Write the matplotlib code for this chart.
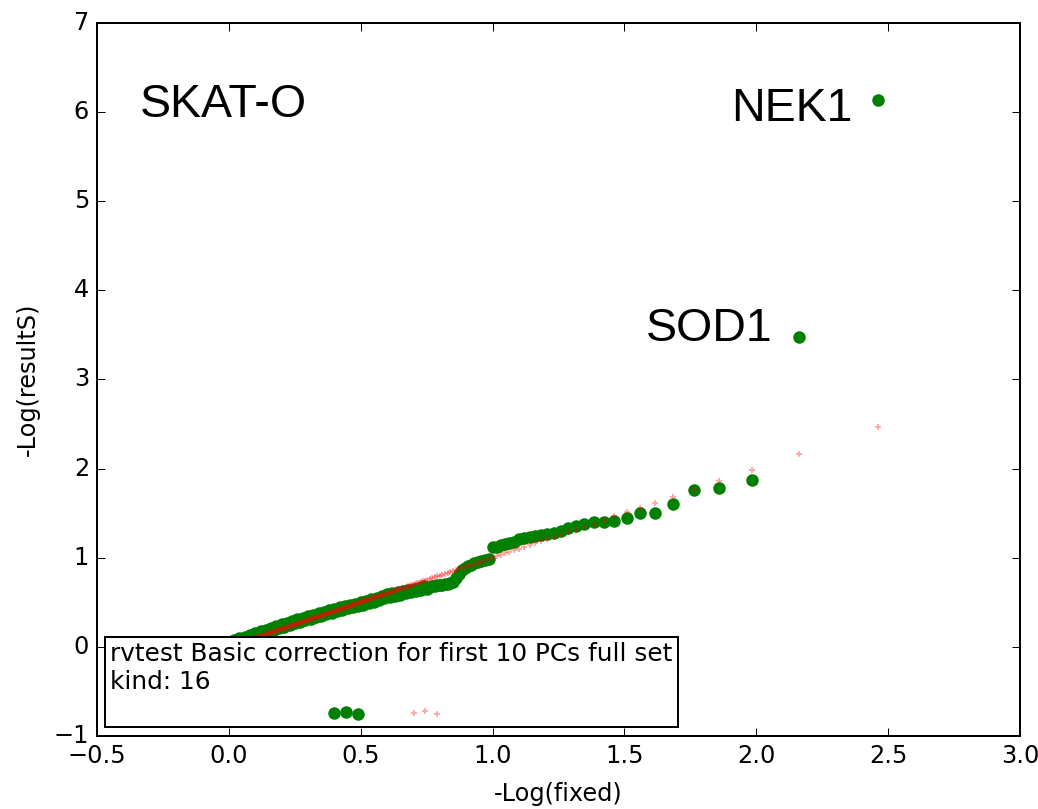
import matplotlib
matplotlib.use('Agg')
import matplotlib.pyplot as plt

plt.style.use('classic')

exp_top = [2.462, 2.161, 1.985, 1.860, 1.763, 1.684, 1.617, 1.559, 1.508, 1.462,
           1.421, 1.383, 1.348, 1.316, 1.286, 1.258, 1.232, 1.207, 1.184, 1.161,
           1.140, 1.120, 1.101, 1.082, 1.064, 1.047, 1.031, 1.015, 1.000, 0.985,
           0.971, 0.957, 0.944, 0.931, 0.918, 0.906, 0.894, 0.883, 0.871, 0.860,
           0.850, 0.839, 0.829, 0.819, 0.809, 0.800, 0.790, 0.781, 0.772, 0.763]
obs_top = [6.13, 3.48, 1.87, 1.78, 1.76, 1.60, 1.50, 1.50, 1.45, 1.41,
           1.40, 1.40, 1.38, 1.36, 1.33, 1.30, 1.28, 1.265, 1.25, 1.245,
           1.235, 1.225, 1.205, 1.18, 1.16, 1.15, 1.14, 1.125, 1.115, 0.99,
           0.975, 0.96, 0.95, 0.935, 0.92, 0.905, 0.885, 0.86, 0.82, 0.77,
           0.73, 0.715, 0.705, 0.70, 0.695, 0.69, 0.69, 0.685, 0.68, 0.675]

# dense lower part of the curve (thick band of overlapping points)
exp_low = [0.00, 0.01, 0.02, 0.03, 0.04, 0.05, 0.06, 0.07, 0.08, 0.09,
           0.10, 0.11, 0.12, 0.13, 0.14, 0.15, 0.16, 0.17, 0.18, 0.19,
           0.20, 0.21, 0.22, 0.23, 0.24, 0.25, 0.26, 0.27, 0.28, 0.29,
           0.30, 0.31, 0.32, 0.33, 0.34, 0.35, 0.36, 0.37, 0.38, 0.39,
           0.40, 0.41, 0.42, 0.43, 0.44, 0.45, 0.46, 0.47, 0.48, 0.49,
           0.50, 0.51, 0.52, 0.53, 0.54, 0.55, 0.56, 0.57, 0.58, 0.59,
           0.60, 0.61, 0.62, 0.63, 0.64, 0.65, 0.66, 0.67, 0.68, 0.69,
           0.70, 0.71, 0.72, 0.73, 0.74, 0.75]
obs_low = [0.058, 0.032, 0.077, 0.051, 0.096, 0.070, 0.115, 0.089, 0.134, 0.108,
           0.153, 0.127, 0.173, 0.147, 0.193, 0.167, 0.213, 0.187, 0.233, 0.207,
           0.253, 0.226, 0.271, 0.244, 0.289, 0.262, 0.307, 0.280, 0.325, 0.298,
           0.343, 0.316, 0.360, 0.333, 0.377, 0.350, 0.394, 0.367, 0.411, 0.384,
           0.428, 0.400, 0.444, 0.416, 0.460, 0.432, 0.474, 0.444, 0.486, 0.456,
           0.498, 0.471, 0.516, 0.489, 0.534, 0.507, 0.552, 0.525, 0.570, 0.543,
           0.588, 0.559, 0.602, 0.573, 0.616, 0.587, 0.629, 0.599, 0.641, 0.611,
           0.653, 0.623, 0.665, 0.635, 0.677, 0.647]

# odd points sitting below zero
odd_green_x = [0.40, 0.445, 0.49]
odd_green_y = [-0.746, -0.728, -0.757]
odd_red_x = [0.70, 0.745, 0.79]
odd_red_y = [-0.746, -0.723, -0.757]

# expected diagonal, dense part (looks like a solid line)
diag_dense = [0.000, 0.005, 0.010, 0.015, 0.020, 0.025, 0.030, 0.035, 0.040, 0.045,
              0.050, 0.055, 0.060, 0.065, 0.070, 0.075, 0.080, 0.085, 0.090, 0.095,
              0.100, 0.105, 0.110, 0.115, 0.120, 0.125, 0.130, 0.135, 0.140, 0.145,
              0.150, 0.155, 0.160, 0.165, 0.170, 0.175, 0.180, 0.185, 0.190, 0.195,
              0.200, 0.205, 0.210, 0.215, 0.220, 0.225, 0.230, 0.235, 0.240, 0.245,
              0.250, 0.255, 0.260, 0.265, 0.270, 0.275, 0.280, 0.285, 0.290, 0.295,
              0.300, 0.305, 0.310, 0.315, 0.320, 0.325, 0.330, 0.335, 0.340, 0.345,
              0.350, 0.355, 0.360, 0.365, 0.370, 0.375, 0.380, 0.385, 0.390, 0.395,
              0.400, 0.405, 0.410, 0.415, 0.420, 0.425, 0.430, 0.435, 0.440, 0.445,
              0.450, 0.455, 0.460, 0.465, 0.470, 0.475, 0.480, 0.485, 0.490, 0.495,
              0.500, 0.505, 0.510, 0.515, 0.520, 0.525, 0.530, 0.535, 0.540, 0.545,
              0.550, 0.555, 0.560, 0.565, 0.570, 0.575, 0.580, 0.585, 0.590, 0.596,
              0.602, 0.608, 0.614, 0.620, 0.626, 0.632, 0.638, 0.644, 0.650, 0.657,
              0.664, 0.671, 0.678, 0.685, 0.692, 0.699, 0.706, 0.713, 0.720, 0.728,
              0.736, 0.744, 0.752]

genes = ['NEK1', 'SOD1']
title_label = 'SKAT-O'
box_text = 'rvtest Basic correction for first 10 PCs full set\nkind: 16\n'

s = 1.44  # the reference was drawn larger and scaled down
fig = plt.figure(figsize=(10.38, 8.09), dpi=100, facecolor='white')
ax = fig.add_axes([0.0935, 0.0902, 0.8892, 0.8818])
ax.set_facecolor('white')

ax.plot(exp_top + exp_low, obs_top + obs_low, 'o', color='green', mec='green',
        mew=0, ms=9.0, zorder=2)
ax.plot(exp_top + diag_dense, exp_top + diag_dense, '+', color='red', alpha=0.35,
        ms=4.5, mew=1.3, zorder=3)

ax.text(0.0141, 0.0196, box_text, transform=ax.transAxes, fontsize=17.8,
        ha='left', va='bottom', zorder=5,
        bbox=dict(boxstyle='square,pad=0.22', fc='white', ec='black', lw=1.0 * s))

ax.plot(odd_green_x, odd_green_y, 'o', color='green', mec='green', mew=0,
        ms=9.0, zorder=6)
ax.plot(odd_red_x, odd_red_y, '+', color='red', alpha=0.35, ms=4.5, mew=1.3, zorder=6)

# gene labels next to the top hits
lab_font = dict(family='Liberation Sans', fontsize=33.5)
ax.text(-0.339, 5.94, title_label, ha='left', va='baseline', **lab_font)
ax.text(2.365, 5.90, genes[0], ha='right', va='baseline', **lab_font)
ax.text(2.06, 3.435, genes[1], ha='right', va='baseline', **lab_font)

ax.set_xlim(-0.5, 3.0)
ax.set_ylim(-1, 7)
ax.set_xticks([-0.5, 0.0, 0.5, 1.0, 1.5, 2.0, 2.5, 3.0])
ax.set_yticks(range(-1, 8))
ax.tick_params(labelsize=12 * s, length=4 * s, width=0.5 * s, pad=4 * s)
for sp in ax.spines.values():
    sp.set_linewidth(1.0 * s)

ax.set_xlabel('-Log(fixed)', fontsize=12 * s, labelpad=10)
ax.set_ylabel('-Log(resultS)', fontsize=12 * s, labelpad=10)

plt.savefig('out.png', dpi=100, facecolor='white')
